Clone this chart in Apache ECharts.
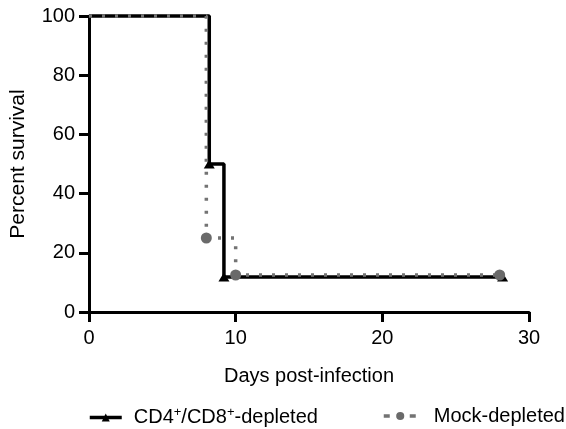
<!DOCTYPE html>
<html>
<head>
<meta charset="utf-8">
<script src="https://cdn.jsdelivr.net/npm/echarts@6/dist/echarts.min.js"></script>
<style>
  html, body { margin: 0; padding: 0; background: #fff; }
  #container { width: 566px; height: 429px; }
</style>
</head>
<body>
<div id="container"></div>
<script>
// survival curves (day, percent)
var depletedDays = [0, 8.2, 9.2, 28.2];
var depletedSurv = [100, 50, 11.8, 11.8];
var mockDays = [0, 8, 10, 28];
var mockSurv = [100, 25, 12.5, 12.5];
var xTicks = [0, 10, 20, 30];
var yTicks = [0, 20, 40, 60, 80, 100];

function toPoints(days, surv) {
    var pts = [];
    for (let i in days) {
        let p = { value: [days[i], surv[i]] };
        if (i == 0) p.symbol = 'none';
        pts.push(p);
    }
    return pts;
}

var dom = document.getElementById('container');
var myChart = echarts.init(dom, null, { renderer: 'canvas' });

var font = 'Liberation Sans, Arial, sans-serif';
var option;

option = {
    animation: false,
    textStyle: { fontFamily: font, color: '#000' },
    grid: { left: 86, right: 37, top: 16, bottom: 117 },
    xAxis: {
        type: 'value',
        min: xTicks[0],
        max: xTicks[xTicks.length - 1],
        interval: 10,
        name: 'Days post-infection',
        nameLocation: 'middle',
        nameGap: 54,
        nameTextStyle: { fontSize: 20, color: '#000', fontFamily: font },
        splitLine: { show: false },
        axisLine: { lineStyle: { color: '#000', width: 3 } },
        axisTick: { length: 10, lineStyle: { color: '#000', width: 3 } },
        axisLabel: { fontSize: 20, color: '#000', margin: 16, fontFamily: font }
    },
    yAxis: {
        type: 'value',
        min: yTicks[0],
        max: yTicks[yTicks.length - 1],
        interval: 20,
        name: 'Percent survival',
        nameLocation: 'middle',
        nameGap: 60,
        nameTextStyle: { fontSize: 21, color: '#000', fontFamily: font },
        splitLine: { show: false },
        axisLine: { show: true, lineStyle: { color: '#000', width: 3 } },
        axisTick: { show: true, length: 10, lineStyle: { color: '#000', width: 3 } },
        axisLabel: { fontSize: 20, color: '#000', margin: 14, fontFamily: font }
    },
    legend: [{
        data: ['depleted'],
        left: 88,
        top: 406,
        padding: 0,
        itemWidth: 32,
        itemHeight: 10,
        lineStyle: { width: 3.5 },
        formatter: function () {
            return '{n|CD4}{s|+}{n|/CD8}{s|+}{n|-depleted}';
        },
        textStyle: {
            padding: [0, 0, 0, 7],
            rich: {
                n: { fontSize: 20, color: '#000', fontFamily: font },
                s: { fontSize: 13, color: '#000', fontFamily: font, verticalAlign: 'top', padding: [0, 0, 10, 0] }
            }
        }
    }, {
        data: ['Mock-depleted'],
        left: 382,
        top: 406,
        padding: 0,
        itemWidth: 33,
        itemHeight: 10,
        lineStyle: { width: 3.5, type: [6, 7] },
        textStyle: { fontSize: 20, color: '#000', fontFamily: font, padding: [0, 0, 0, 12] }
    }],
    series: [{
        name: 'depleted',
        type: 'line',
        step: 'end',
        clip: false,
        data: toPoints(depletedDays, depletedSurv),
        symbol: 'triangle',
        symbolSize: [11, 9],
        showAllSymbol: true,
        lineStyle: { color: '#000', width: 3.5 },
        itemStyle: { color: '#000' },
        z: 2
    }, {
        name: 'Mock-depleted',
        type: 'line',
        step: 'end',
        clip: false,
        data: toPoints(mockDays, mockSurv),
        symbol: 'circle',
        symbolSize: 11,
        showAllSymbol: true,
        lineStyle: { color: '#737373', width: 3.5, type: [3, 10], cap: 'butt' },
        itemStyle: { color: '#6a6a6a' },
        z: 3
    }]
};

if (option && typeof option === 'object') {
    myChart.setOption(option);
}

window.addEventListener('resize', myChart.resize);
</script>
</body>
</html>
